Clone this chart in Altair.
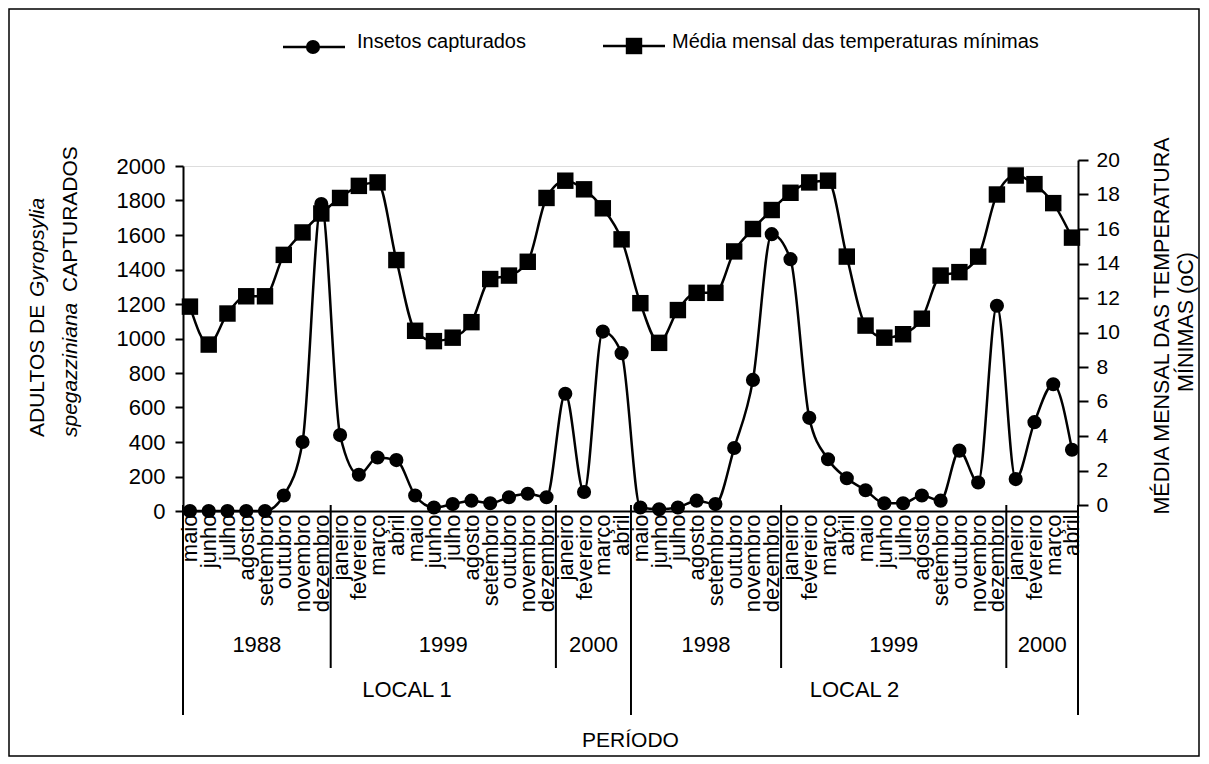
import altair as alt
import pandas as pd

# ---------------- data ----------------
months = ["maio", "junho", "julho", "agosto", "setembro", "outubro", "novembro", "dezembro",
          "janeiro", "fevereiro", "março", "abril", "maio", "junho", "julho", "agosto",
          "setembro", "outubro", "novembro", "dezembro", "janeiro", "fevereiro", "março", "abril"]
month_labels = months + months

insects_local1 = [0, 0, 0, 0, 0, 90, 400, 1780, 440, 210, 310, 295,
                  90, 20, 40, 60, 45, 80, 100, 80, 680, 110, 1040, 915]
insects_local2 = [20, 10, 20, 60, 40, 365, 760, 1605, 1460, 540, 300, 190,
                  120, 45, 45, 90, 60, 350, 165, 1190, 185, 515, 735, 355]
temp_local1 = [11.5, 9.3, 11.1, 12.1, 12.1, 14.5, 15.8, 16.9, 17.8, 18.5, 18.7, 14.2,
               10.1, 9.5, 9.7, 10.6, 13.1, 13.3, 14.1, 17.8, 18.8, 18.3, 17.2, 15.4]
temp_local2 = [11.7, 9.4, 11.3, 12.3, 12.3, 14.7, 16.0, 17.1, 18.1, 18.7, 18.8, 14.4,
               10.4, 9.7, 9.9, 10.8, 13.3, 13.5, 14.4, 18.0, 19.1, 18.6, 17.5, 15.5]

year_labels = ["1988", "1999", "2000", "1998", "1999", "2000"]
year_start = [-0.37, 7.5, 19.5, 23.5, 31.5, 43.5]
year_end = [7.5, 19.5, 23.5, 31.5, 43.5, 47.32]
local_labels = ["LOCAL 1", "LOCAL 2"]
local_start = [-0.37, 23.5]
local_end = [23.5, 47.32]
short_sep = [7.5, 19.5, 31.5, 43.5]
long_sep = [-0.37, 23.5, 47.32]

left_ticks = list(range(0, 2001, 200))
right_ticks = list(range(0, 21, 2))

# ---------------- tables ----------------
n = len(month_labels)
df = pd.DataFrame({
    "idx": list(range(n)),
    "mes": month_labels,
    "insetos": insects_local1 + insects_local2,
    "temp": temp_local1 + temp_local2,
})
years_df = pd.DataFrame({"label": year_labels,
                         "xc": [(a + b) / 2 for a, b in zip(year_start, year_end)]})
local_df = pd.DataFrame({"label": local_labels,
                         "xc": [(a + b) / 2 for a, b in zip(local_start, local_end)]})
short_df = pd.DataFrame({"idx": short_sep})
long_df = pd.DataFrame({"idx": long_sep})
one = pd.DataFrame({"a": [0]})

W, H = 895, 345
FONT = "Liberation Sans, Arial, sans-serif"
label_expr = "[" + ",".join("'" + m + "'" for m in month_labels) + "][datum.value]"

xscale = alt.Scale(domain=[-0.37, 47.32], nice=False, zero=False)
x_axis = alt.Axis(values=list(range(n)), labelExpr=label_expr, labelAngle=270,
                  labelFontSize=22, labelPadding=3, ticks=False,
                  labelFlush=False, labelOverlap=False, labelBound=False,
                  domainColor="black", domainWidth=2, grid=False,
                  labelColor="black", title=None)


def xq(field):
    return alt.X(field, type="quantitative", scale=xscale, axis=x_axis)


left_axis = alt.Axis(values=left_ticks, format="d", title=None, labelFontSize=22,
                     labelColor="black", tickSize=8, tickWidth=2, tickColor="black",
                     labelPadding=10, domainColor="black", domainWidth=2, grid=False,
                     labelOverlap=False)
right_axis = alt.Axis(orient="right", values=right_ticks, format="d", title=None,
                      labelFontSize=21, labelColor="black", tickSize=10, tickWidth=2,
                      tickColor="black", labelPadding=8, domainColor="black",
                      domainWidth=2, grid=False, labelOverlap=False)

yleft = alt.Y("insetos:Q", scale=alt.Scale(domain=[0, 2000], nice=False), axis=left_axis)
yright = alt.Y("temp:Q", scale=alt.Scale(domain=[0, 20], nice=False, range=[339, -6]),
               axis=right_axis)

ins_base = alt.Chart(df).encode(x=xq("idx"), y=yleft)
insects = alt.layer(
    ins_base.mark_line(color="black", strokeWidth=2.5, interpolate="monotone"),
    ins_base.mark_point(shape="circle", filled=True, size=200, color="black", opacity=1),
)
tmp_base = alt.Chart(df).encode(x=xq("idx"), y=yright)
temp = alt.layer(
    tmp_base.mark_line(color="black", strokeWidth=2.5, interpolate="monotone"),
    tmp_base.mark_point(shape="square", filled=True, size=270, color="black", opacity=1),
)

# separators below the axis
short_rules = alt.Chart(short_df).mark_rule(color="black", strokeWidth=2).encode(
    x=xq("idx"), y=alt.value(339), y2=alt.value(502))
long_rules = alt.Chart(long_df).mark_rule(color="black", strokeWidth=2).encode(
    x=xq("idx"), y=alt.value(339), y2=alt.value(549))

year_text = alt.Chart(years_df).mark_text(fontSize=22, color="black", font=FONT, baseline="middle").encode(
    x=xq("xc"), y=alt.value(479), text="label:N")
local_text = alt.Chart(local_df).mark_text(fontSize=22, color="black", font=FONT, baseline="middle").encode(
    x=xq("xc"), y=alt.value(524), text="label:N")

periodo = alt.Chart(one).mark_text(text="PERÍODO", fontSize=21, color="black", font=FONT).encode(
    x=alt.value(W / 2), y=alt.value(575))

# legend
leg_line1 = alt.Chart(one).mark_rule(color="black", strokeWidth=2.5).encode(
    x=alt.value(100), x2=alt.value(162), y=alt.value(-119))
leg_pt1 = alt.Chart(one).mark_point(shape="circle", filled=True, size=200, color="black", opacity=1).encode(
    x=alt.value(130), y=alt.value(-119))
leg_txt1 = alt.Chart(one).mark_text(text="Insetos capturados", fontSize=20, align="left",
                                     baseline="middle", color="black", font=FONT).encode(
    x=alt.value(174), y=alt.value(-124))
leg_line2 = alt.Chart(one).mark_rule(color="black", strokeWidth=2.5).encode(
    x=alt.value(420), x2=alt.value(482), y=alt.value(-120))
leg_pt2 = alt.Chart(one).mark_point(shape="square", filled=True, size=270, color="black", opacity=1).encode(
    x=alt.value(451), y=alt.value(-120))
leg_txt2 = alt.Chart(one).mark_text(text="Média mensal das temperaturas mínimas", fontSize=20,
                                     align="left", baseline="middle", color="black", font=FONT).encode(
    x=alt.value(489), y=alt.value(-124))


# axis titles (rotated)
def rot(txt, x, y, align="left", italic=False, size=21):
    return alt.Chart(one).mark_text(text=txt, angle=270, fontSize=size, align=align,
                                    baseline="middle", color="black", font=FONT,
                                    fontStyle="italic" if italic else "normal").encode(
        x=alt.value(x), y=alt.value(y))


lt1a = rot("ADULTOS DE", -145, 271)
lt1b = rot("Gyropsylia", -145, 131, italic=True)
lt2a = rot("spegazziniana", -112, 271, italic=True)
lt2b = rot("CAPTURADOS", -112, 126)
rt1 = rot("MÉDIA MENSAL DAS TEMPERATURA", 980, 160, align="center", size=21.5)
rt2 = rot("MÍNIMAS (oC)", 1004, 156, align="center", size=21.5)

frame = alt.Chart(one).mark_rect(fill="transparent", stroke="black", strokeWidth=1.5).encode(
    x=alt.value(-174), x2=alt.value(1016), y=alt.value(-157), y2=alt.value(590))

main = alt.layer(insects, temp).resolve_scale(y="independent")

chart = alt.layer(
    main, short_rules, long_rules, year_text, local_text, periodo,
    leg_line1, leg_pt1, leg_txt1, leg_line2, leg_pt2, leg_txt2,
    lt1a, lt1b, lt2a, lt2b, rt1, rt2, frame,
).properties(
    width=W, height=H,
    autosize=alt.AutoSizeParams(type="none"),
    padding={"left": 175, "top": 158, "right": 123, "bottom": 247},
    background="white",
).configure_view(strokeWidth=0).configure(font=FONT).configure_axis(labelOverlap=False)

chart.save("out.html", embed_options={"renderer": "svg", "actions": False})
